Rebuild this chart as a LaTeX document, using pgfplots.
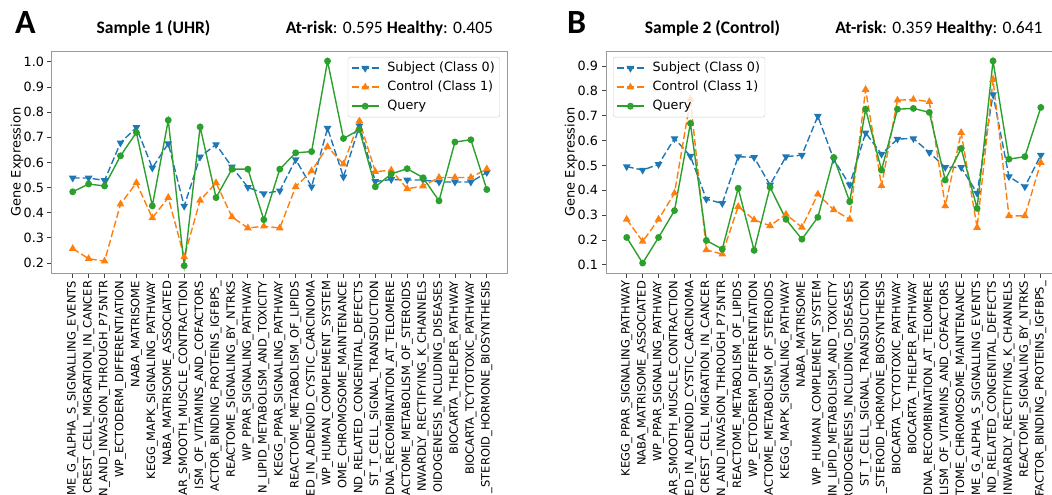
\documentclass[border=0pt]{standalone}
\usepackage{fontspec}
\setmainfont{DejaVu Sans}
\newfontfamily\calfont{Carlito}
\usepackage{pgfplots}
\usepackage{pgfplotstable}
\pgfplotsset{compat=1.18}
\definecolor{tabblue}{HTML}{1F77B4}
\definecolor{taborange}{HTML}{FF7F0E}
\definecolor{tabgreen}{HTML}{2CA02C}

\pgfplotstableread{
x s c q
0 0.538 0.257 0.483
1 0.538 0.217 0.514
2 0.528 0.207 0.506
3 0.678 0.434 0.626
4 0.739 0.519 0.719
5 0.578 0.379 0.427
6 0.675 0.460 0.768
7 0.426 0.224 0.189
8 0.622 0.449 0.741
9 0.671 0.519 0.460
10 0.582 0.383 0.573
11 0.501 0.339 0.573
12 0.476 0.346 0.372
13 0.487 0.339 0.573
14 0.611 0.503 0.638
15 0.503 0.566 0.643
16 0.736 0.662 1.003
17 0.542 0.593 0.695
18 0.745 0.765 0.730
19 0.524 0.563 0.503
20 0.532 0.569 0.554
21 0.530 0.495 0.575
22 0.530 0.506 0.539
23 0.522 0.540 0.447
24 0.522 0.540 0.681
25 0.522 0.540 0.690
26 0.560 0.574 0.492
}\dataA

\pgfplotstableread{
x s c q
0 0.495 0.283 0.210
1 0.481 0.194 0.107
2 0.504 0.283 0.210
3 0.608 0.388 0.318
4 0.537 0.765 0.669
5 0.364 0.160 0.198
6 0.347 0.143 0.163
7 0.535 0.334 0.408
8 0.532 0.281 0.158
9 0.421 0.257 0.412
10 0.535 0.303 0.283
11 0.541 0.251 0.203
12 0.698 0.384 0.291
13 0.524 0.321 0.532
14 0.421 0.283 0.354
15 0.631 0.805 0.726
16 0.545 0.418 0.481
17 0.606 0.762 0.726
18 0.608 0.765 0.729
19 0.552 0.756 0.713
20 0.492 0.337 0.441
21 0.492 0.632 0.568
22 0.388 0.250 0.327
23 0.785 0.845 0.920
24 0.455 0.297 0.525
25 0.414 0.297 0.535
26 0.541 0.511 0.733
}\dataB

\pgfplotsset{
  common/.style={
    width=455.5bp, height=222bp, scale only axis,
    xmin=-1.3, xmax=27.3,
    xtick={0,...,26},
    tick align=outside, xtick pos=lower, ytick pos=left,
    major tick length=4.5bp,
    tick style={black!75, line width=0.8bp},
    axis line style={black!40, line width=1bp},
    /pgf/number format/assume math mode=true,
    yticklabel style={font=\fontsize{12.8}{14}\selectfont, /pgf/number format/.cd, fixed, fixed zerofill, precision=1},
    xticklabel style={font=\fontsize{11.5}{12}\selectfont, rotate=90, anchor=east},
    ylabel={Gene Expression},
    every axis y label/.style={at={(axis description cs:-0.077,0.5)}, rotate=90, anchor=center, font=\fontsize{13}{14}\selectfont},
    legend cell align=left,
    legend image code/.code={\draw[mark repeat=2,mark phase=2,##1] plot coordinates {(0bp,0bp) (13.5bp,0bp) (27bp,0bp)};},
    legend style={font=\fontsize{12.8}{14}\selectfont, draw=black!20, rounded corners=2.5bp, fill=white, fill opacity=0.8, text opacity=1, draw opacity=1, inner xsep=3bp, inner ysep=3bp, row sep=3bp, nodes={inner sep=2bp, text height=9.5bp, text depth=2.5bp}, /tikz/every odd column/.append style={column sep=6bp}},
  },
  subj/.style={tabblue, line width=1.4bp, dash pattern=on 7bp off 3bp, mark=triangle*, mark size=3.1bp, mark options={solid, rotate=180}},
  ctrl/.style={taborange, line width=1.4bp, dash pattern=on 7bp off 3bp, mark=triangle*, mark size=3.1bp, mark options={solid}},
  qry/.style={tabgreen, line width=1.4bp, mark=*, mark size=2.7bp, mark options={solid}},
}

\begin{document}
\begin{tikzpicture}
\begin{axis}[common, at={(52bp,-51bp)}, anchor=north west,
  ymin=0.16, ymax=1.043,
  ytick={0.2,0.3,0.4,0.5,0.6,0.7,0.8,0.9,1.0},
  xticklabels={ME\_G\_ALPHA\_S\_SIGNALLING\_EVENTS, CREST\_CELL\_MIGRATION\_IN\_CANCER, N\_AND\_INVASION\_THROUGH\_P75NTR, WP\_ECTODERM\_DIFFERENTIATION, NABA\_MATRISOME, KEGG\_MAPK\_SIGNALING\_PATHWAY, NABA\_MATRISOME\_ASSOCIATED, AR\_SMOOTH\_MUSCLE\_CONTRACTION, ISM\_OF\_VITAMINS\_AND\_COFACTORS, ACTOR\_BINDING\_PROTEINS\_IGFBPS\_, REACTOME\_SIGNALING\_BY\_NTRKS, WP\_PPAR\_SIGNALING\_PATHWAY, N\_LIPID\_METABOLISM\_AND\_TOXICITY, KEGG\_PPAR\_SIGNALING\_PATHWAY, REACTOME\_METABOLISM\_OF\_LIPIDS, ED\_IN\_ADENOID\_CYSTIC\_CARCINOMA, WP\_HUMAN\_COMPLEMENT\_SYSTEM, OME\_CHROMOSOME\_MAINTENANCE, ND\_RELATED\_CONGENITAL\_DEFECTS, ST\_T\_CELL\_SIGNAL\_TRANSDUCTION, DNA\_RECOMBINATION\_AT\_TELOMERE, ACTOME\_METABOLISM\_OF\_STEROIDS, NWARDLY\_RECTIFYING\_K\_CHANNELS, OIDOGENESIS\_INCLUDING\_DISEASES, BIOCARTA\_THELPER\_PATHWAY, BIOCARTA\_TCYTOTOXIC\_PATHWAY, \_STEROID\_HORMONE\_BIOSYNTHESIS},
  legend style={at={(axis description cs:0.9835,0.973)}, anchor=north east},
]
\addplot[subj] table[x=x, y=s] {\dataA};
\addlegendentry{Subject (Class 0)}
\addplot[ctrl] table[x=x, y=c] {\dataA};
\addlegendentry{Control (Class 1)}
\addplot[qry] table[x=x, y=q] {\dataA};
\addlegendentry{Query}
\end{axis}

\begin{axis}[common, at={(606bp,-51bp)}, anchor=north west,
  ymin=0.067, ymax=0.96,
  ytick={0.1,0.2,0.3,0.4,0.5,0.6,0.7,0.8,0.9},
  xticklabels={KEGG\_PPAR\_SIGNALING\_PATHWAY, NABA\_MATRISOME\_ASSOCIATED, WP\_PPAR\_SIGNALING\_PATHWAY, AR\_SMOOTH\_MUSCLE\_CONTRACTION, ED\_IN\_ADENOID\_CYSTIC\_CARCINOMA, CREST\_CELL\_MIGRATION\_IN\_CANCER, N\_AND\_INVASION\_THROUGH\_P75NTR, REACTOME\_METABOLISM\_OF\_LIPIDS, WP\_ECTODERM\_DIFFERENTIATION, ACTOME\_METABOLISM\_OF\_STEROIDS, KEGG\_MAPK\_SIGNALING\_PATHWAY, NABA\_MATRISOME, WP\_HUMAN\_COMPLEMENT\_SYSTEM, IN\_LIPID\_METABOLISM\_AND\_TOXICITY, ROIDOGENESIS\_INCLUDING\_DISEASES, ST\_T\_CELL\_SIGNAL\_TRANSDUCTION, \_STEROID\_HORMONE\_BIOSYNTHESIS, BIOCARTA\_TCYTOTOXIC\_PATHWAY, BIOCARTA\_THELPER\_PATHWAY, DNA\_RECOMBINATION\_AT\_TELOMERE, LISM\_OF\_VITAMINS\_AND\_COFACTORS, TOME\_CHROMOSOME\_MAINTENANCE, ME\_G\_ALPHA\_S\_SIGNALLING\_EVENTS, ND\_RELATED\_CONGENITAL\_DEFECTS, INWARDLY\_RECTIFYING\_K\_CHANNELS, REACTOME\_SIGNALING\_BY\_NTRKS, FACTOR\_BINDING\_PROTEINS\_IGFBPS\_},
  legend style={at={(axis description cs:0.0154,0.973)}, anchor=north west},
]
\addplot[subj] table[x=x, y=s] {\dataB};
\addlegendentry{Subject (Class 0)}
\addplot[ctrl] table[x=x, y=c] {\dataB};
\addlegendentry{Control (Class 1)}
\addplot[qry] table[x=x, y=q] {\dataB};
\addlegendentry{Query}
\end{axis}

\node[anchor=base west, inner sep=0pt, font=\calfont\fontsize{34}{34}\selectfont\bfseries] at (15bp,-33bp) {A};
\node[anchor=base, inner sep=0pt, font=\calfont\fontsize{17.6}{18}\selectfont\bfseries] at (153.5bp,-33.3bp) {Sample 1 (UHR)};
\node[anchor=base, inner sep=0pt, font=\calfont\fontsize{17.6}{18}\selectfont] at (389.5bp,-33.3bp) {\textbf{At-risk}: 0.595 \textbf{Healthy}: 0.405};

\node[anchor=base west, inner sep=0pt, font=\calfont\fontsize{34}{34}\selectfont\bfseries] at (567bp,-33bp) {B};
\node[anchor=base, inner sep=0pt, font=\calfont\fontsize{17.6}{18}\selectfont\bfseries] at (712.5bp,-33.3bp) {Sample 2 (Control)};
\node[anchor=base, inner sep=0pt, font=\calfont\fontsize{17.6}{18}\selectfont] at (939bp,-33.3bp) {\textbf{At-risk}: 0.359 \textbf{Healthy}: 0.641};

\pgfresetboundingbox
\useasboundingbox (0bp,0bp) rectangle (1052bp,-495bp);
\end{tikzpicture}
\end{document}
